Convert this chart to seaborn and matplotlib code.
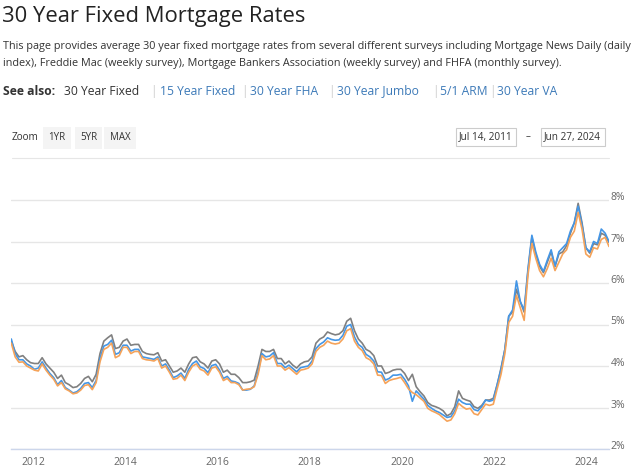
import numpy as np
import pandas as pd
import matplotlib
matplotlib.use("Agg")
import matplotlib.pyplot as plt
import matplotlib.dates as mdates
import matplotlib.transforms as mtransforms
import seaborn as sns

# monthly values, Jul 2011 .. Jun 2024 (percent)
mnd_rates = [
    4.60, 4.35, 4.22, 4.25, 4.15, 4.08,
    4.06, 4.06, 4.20, 4.05, 3.95, 3.85, 3.70, 3.78, 3.60, 3.55, 3.48, 3.50,
    3.58, 3.70, 3.75, 3.62, 3.80, 4.30, 4.60, 4.68, 4.75, 4.42, 4.45, 4.60,
    4.65, 4.50, 4.52, 4.52, 4.35, 4.30, 4.28, 4.27, 4.32, 4.12, 4.15, 4.00,
    3.85, 3.88, 3.95, 3.85, 4.05, 4.20, 4.22, 4.10, 4.05, 3.95, 4.12, 4.15,
    4.05, 3.85, 3.90, 3.80, 3.80, 3.72, 3.60, 3.60, 3.62, 3.66, 4.00, 4.40,
    4.35, 4.35, 4.40, 4.18, 4.18, 4.05, 4.12, 4.02, 3.95, 4.05, 4.10, 4.12,
    4.22, 4.55, 4.65, 4.70, 4.82, 4.78, 4.75, 4.77, 4.85, 5.08, 5.15, 4.85,
    4.65, 4.55, 4.40, 4.35, 4.25, 4.00, 4.00, 3.82, 3.85, 3.90, 3.92, 3.92,
    3.82, 3.65, 3.80, 3.50, 3.38, 3.28, 3.12, 3.05, 3.02, 2.98, 2.92, 2.80,
    2.85, 3.02, 3.40, 3.22, 3.18, 3.15, 3.02, 2.98, 3.05, 3.18, 3.18, 3.22,
    3.55, 3.95, 4.40, 5.20, 5.30, 5.85, 5.55, 5.30, 6.30, 7.10, 6.70, 6.40,
    6.25, 6.50, 6.75, 6.40, 6.70, 6.75, 6.90, 7.20, 7.45, 7.92, 7.45, 6.85,
    6.72, 6.95, 6.92, 7.20, 7.15, 6.98,
]
mba_rates = [
    4.65, 4.30, 4.15, 4.15, 4.05, 4.00,
    3.92, 3.95, 4.10, 3.95, 3.82, 3.72, 3.55, 3.65, 3.48, 3.42, 3.35, 3.38,
    3.46, 3.58, 3.60, 3.48, 3.65, 4.18, 4.48, 4.52, 4.62, 4.28, 4.32, 4.50,
    4.50, 4.36, 4.40, 4.40, 4.22, 4.20, 4.18, 4.16, 4.22, 4.00, 4.05, 3.90,
    3.72, 3.76, 3.83, 3.70, 3.92, 4.06, 4.12, 3.98, 3.94, 3.84, 4.01, 4.04,
    3.90, 3.70, 3.75, 3.64, 3.62, 3.58, 3.42, 3.42, 3.44, 3.52, 3.86, 4.30,
    4.22, 4.24, 4.32, 4.06, 4.06, 3.96, 4.02, 3.94, 3.86, 3.96, 3.98, 4.00,
    4.12, 4.42, 4.52, 4.58, 4.68, 4.64, 4.62, 4.63, 4.74, 4.96, 5.00, 4.70,
    4.52, 4.45, 4.28, 4.22, 4.12, 3.86, 3.85, 3.66, 3.70, 3.78, 3.78, 3.80,
    3.68, 3.52, 3.15, 3.40, 3.30, 3.20, 3.05, 2.98, 2.92, 2.88, 2.82, 2.76,
    2.78, 2.92, 3.20, 3.12, 3.08, 3.08, 2.95, 2.92, 3.02, 3.18, 3.15, 3.18,
    3.55, 3.92, 4.40, 5.20, 5.35, 6.05, 5.55, 5.35, 6.35, 7.15, 6.75, 6.45,
    6.28, 6.55, 6.80, 6.40, 6.75, 6.85, 6.95, 7.25, 7.45, 7.85, 7.40, 6.85,
    6.75, 7.00, 6.95, 7.30, 7.20, 7.00,
]
freddie_rates = [
    4.55, 4.22, 4.09, 4.10, 4.00, 3.95,
    3.90, 3.88, 4.05, 3.90, 3.78, 3.68, 3.52, 3.60, 3.45, 3.40, 3.33, 3.35,
    3.42, 3.53, 3.55, 3.43, 3.60, 4.10, 4.40, 4.45, 4.55, 4.20, 4.25, 4.45,
    4.45, 4.30, 4.35, 4.35, 4.18, 4.15, 4.14, 4.12, 4.18, 3.95, 4.00, 3.85,
    3.68, 3.70, 3.78, 3.65, 3.85, 4.00, 4.05, 3.92, 3.88, 3.78, 3.95, 3.98,
    3.85, 3.65, 3.70, 3.60, 3.60, 3.55, 3.42, 3.44, 3.45, 3.50, 3.80, 4.25,
    4.15, 4.17, 4.25, 4.00, 4.00, 3.90, 3.96, 3.88, 3.80, 3.90, 3.92, 3.95,
    4.05, 4.35, 4.45, 4.50, 4.60, 4.55, 4.53, 4.55, 4.65, 4.85, 4.90, 4.60,
    4.45, 4.37, 4.20, 4.15, 4.05, 3.78, 3.77, 3.58, 3.65, 3.68, 3.70, 3.73,
    3.60, 3.45, 3.36, 3.31, 3.23, 3.15, 2.98, 2.92, 2.88, 2.83, 2.75, 2.67,
    2.70, 2.85, 3.10, 3.02, 2.96, 2.98, 2.85, 2.82, 2.95, 3.08, 3.05, 3.08,
    3.45, 3.80, 4.30, 5.05, 5.20, 5.70, 5.40, 5.10, 6.20, 6.95, 6.60, 6.30,
    6.15, 6.35, 6.60, 6.30, 6.50, 6.70, 6.80, 7.10, 7.25, 7.70, 7.30, 6.70,
    6.62, 6.85, 6.82, 7.05, 7.10, 6.88,
]
survey_names = ["Mortgage News Daily", "Mortgage Bankers Association", "Freddie Mac"]
survey_colors = ["#808080", "#4496e6", "#f5a35a"]
year_ticks = list(range(2012, 2025, 2))
pct_ticks = [2, 3, 4, 5, 6, 7, 8]
links = ["30 Year Fixed", "15 Year Fixed", "30 Year FHA", "30 Year Jumbo", "5/1 ARM", "30 Year VA"]
zoom_buttons = ["1YR", "5YR", "MAX"]

n = len(freddie_rates)
dates = pd.date_range("2011-07-14", "2024-06-27", periods=n)
df = pd.DataFrame({
    "date": np.tile(dates, 3),
    "rate": np.concatenate([mnd_rates, mba_rates, freddie_rates]),
    "survey": np.repeat(survey_names, n),
})

sns.set_style("white")
plt.rcParams["font.family"] = ["Open Sans", "DejaVu Sans"]

W, H = 640, 472
fig = plt.figure(figsize=(W / 100, H / 100), dpi=100)


def fx(x):
    return x / W


def fy(y):
    return 1 - y / H


# page header
fig.text(fx(2), fy(22), "30 Year Fixed Mortgage Rates", fontsize=15.8, color="#222222", va="baseline")
fig.text(fx(3), fy(49), "This page provides average 30 year fixed mortgage rates from several different surveys including Mortgage News Daily (daily",
         fontsize=7.85, color="#333333", va="baseline")
fig.text(fx(3), fy(66), "index), Freddie Mac (weekly survey), Mortgage Bankers Association (weekly survey) and FHFA (monthly survey).",
         fontsize=7.85, color="#333333", va="baseline")

link_x = [64, 160, 250, 337, 440, 497]
sep_x = [150, 241, 328, 432, 489]
fig.text(fx(3), fy(95), "See also:", fontsize=8.7, fontweight="bold", color="#333333", va="baseline")
for i, (lab, lx) in enumerate(zip(links, link_x)):
    t = fig.text(fx(lx), fy(95), lab, fontsize=8.7, color="#333333" if i == 0 else "#3d7ab8", va="baseline")
    if "J" in lab:
        # Open Sans J has a descender which shifts the baseline layout
        t.set_transform(t.get_transform() + mtransforms.ScaledTranslation(0, 0.6 / 100, fig.dpi_scale_trans))
for sx in sep_x:
    fig.text(fx(sx), fy(95), "|", fontsize=8.5, color="#c8c8c8", va="baseline")

# zoom controls
fig.text(fx(12), fy(138), "Zoom", fontsize=7.2, color="#333333", va="center")
for lab, bx in zip(zoom_buttons, [57, 88.5, 120]):
    fig.text(fx(bx), fy(138), lab, fontsize=7, color="#333333", va="center", ha="center",
             bbox=dict(boxstyle="square,pad=0.55", fc="#f4f4f4", ec="none"))
fig.text(fx(486), fy(137), "Jul 14, 2011", fontsize=7.2, color="#333333", va="center", ha="center",
         bbox=dict(boxstyle="square,pad=0.35", fc="white", ec="#cccccc", lw=0.8))
fig.text(fx(528), fy(137), "–", fontsize=7, color="#333333", va="center", ha="center")
fig.text(fx(572.5), fy(137), "Jun 27, 2024", fontsize=7.2, color="#333333", va="center", ha="center",
         bbox=dict(boxstyle="square,pad=0.35", fc="white", ec="#cccccc", lw=0.8))
fig.add_artist(plt.Line2D([fx(12), fx(609)], [fy(158), fy(158)], color="#e6e6e6", lw=0.8))

# chart
ymin, ymax = 2, 8.2
ppu = 41.5
top_px = 449 - (ymax - ymin) * ppu
ax = fig.add_axes([fx(11.3), fy(449), (609 - 11.3) / W, (449 - top_px) / H])

sns.lineplot(data=df, x="date", y="rate", hue="survey", hue_order=survey_names,
             palette=survey_colors, lw=1.2, legend=False, ax=ax)

ax.set_xlim(dates[0], dates[-1])
ax.set_ylim(ymin, ymax)
ax.set_xlabel("")
ax.set_ylabel("")
for s in ["top", "left", "right"]:
    ax.spines[s].set_visible(False)
ax.spines["bottom"].set_color("#ccd6eb")
ax.spines["bottom"].set_linewidth(1)

ax.set_xticks([pd.Timestamp(f"{y}-01-01") for y in year_ticks])
ax.xaxis.set_major_formatter(mdates.DateFormatter("%Y"))
ax.tick_params(axis="x", direction="out", length=4, width=1, color="#ccd6eb",
               labelsize=7.5, labelcolor="#666666", pad=2)

ax.set_yticks(pct_ticks)
ax.set_yticklabels([f"{v}%" for v in pct_ticks])
ax.yaxis.tick_right()
ax.tick_params(axis="y", length=0, labelsize=7.5, labelcolor="#666666", pad=1)
ax.yaxis.grid(True, color="#e6e6e6", lw=1)
ax.xaxis.grid(False)
offset = mtransforms.ScaledTranslation(0, 4 / 100, fig.dpi_scale_trans)
for lab in ax.get_yticklabels():
    lab.set_transform(lab.get_transform() + offset)

fig.savefig("out.png", dpi=100)
